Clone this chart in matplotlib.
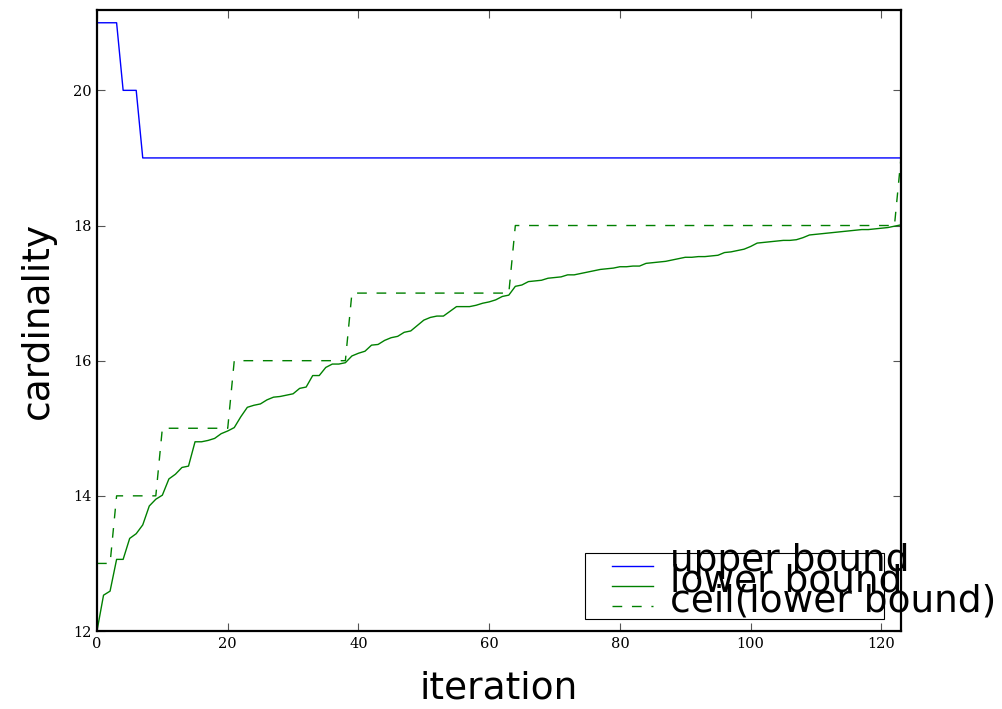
import numpy as np
import matplotlib
matplotlib.use("Agg")
import matplotlib.pyplot as plt
from matplotlib.patches import Rectangle
from matplotlib.lines import Line2D

# ---- data ----
iterations = np.arange(124)

upper_bound = [21, 21, 21, 21, 20, 20, 20] + [19] * 117

lower_bound = [
    12.00, 12.53, 12.59, 13.06, 13.06, 13.37, 13.44, 13.57, 13.85, 13.95,
    14.01, 14.25, 14.32, 14.42, 14.44, 14.80, 14.80, 14.82, 14.85, 14.92,
    14.96, 15.01, 15.17, 15.31, 15.34, 15.36, 15.42, 15.46, 15.47, 15.49,
    15.51, 15.59, 15.61, 15.78, 15.78, 15.90, 15.95, 15.95, 15.97, 16.07,
    16.11, 16.14, 16.23, 16.24, 16.30, 16.34, 16.36, 16.42, 16.44, 16.52,
    16.60, 16.64, 16.66, 16.66, 16.73, 16.80, 16.80, 16.80, 16.82, 16.85,
    16.87, 16.90, 16.95, 16.97, 17.10, 17.12, 17.17, 17.18, 17.19, 17.22,
    17.23, 17.24, 17.27, 17.27, 17.29, 17.31, 17.33, 17.35, 17.36, 17.37,
    17.39, 17.39, 17.40, 17.40, 17.44, 17.45, 17.46, 17.47, 17.49, 17.51,
    17.53, 17.53, 17.54, 17.54, 17.55, 17.56, 17.60, 17.61, 17.63, 17.65,
    17.69, 17.74, 17.75, 17.76, 17.77, 17.78, 17.78, 17.79, 17.82, 17.86,
    17.87, 17.88, 17.89, 17.90, 17.91, 17.92, 17.93, 17.94, 17.94, 17.95,
    17.96, 17.97, 17.99, 18.01,
]

ceil_lower = (
    [13, 13, 13]
    + [14, 14, 14, 14, 14, 14, 14]
    + [15, 15, 15, 15, 15, 15, 15, 15, 15, 15, 15]
    + [16] * 18
    + [17] * 25
    + [18] * 59
    + [19]
)

labels = ["upper bound", "lower bound", "ceil(lower bound)"]
xticks = [0, 20, 40, 60, 80, 100, 120]
yticks = [12, 14, 16, 18, 20]

# ---- figure ----
fig = plt.figure(figsize=(10.03, 7.09), dpi=100)
ax = fig.add_axes([0.0967, 0.110, 0.8016, 0.876])

ax.plot(iterations, upper_bound, color="#0000ff", lw=1.0)
ax.plot(iterations, lower_bound, color="#008000", lw=1.0)
ax.plot(iterations, ceil_lower, color="#008000", lw=1.0, dashes=(7, 7))

ax.set_xlim(0, 123)
ax.set_ylim(12, 21.19)
ax.set_xticks(xticks)
ax.set_yticks(yticks)

for s in ax.spines.values():
    s.set_linewidth(1.6)

ax.tick_params(direction="in", length=6, width=0.8, color="#555555",
               top=True, right=True, pad=4)
for lab in ax.get_xticklabels() + ax.get_yticklabels():
    lab.set_family("DejaVu Serif")
    lab.set_fontsize(10.5)

ax.set_xlabel("iteration", fontsize=27, labelpad=14)
ax.set_ylabel("cardinality", fontsize=27, labelpad=12)

# old-style legend: box sized for small text, labels drawn large
ax.add_patch(Rectangle((0.607, 0.0188), 0.372, 0.1075, transform=ax.transAxes,
                       facecolor="white", edgecolor="black", lw=0.8, zorder=5))
styles = [dict(color="#0000ff"), dict(color="#008000"),
          dict(color="#008000", dashes=(7, 7))]
line_y = [0.1047, 0.0725, 0.0403]
for lab, st, yy in zip(labels, styles, line_y):
    ax.add_line(Line2D([0.641, 0.692], [yy, yy], transform=ax.transAxes,
                       lw=1.0, zorder=6, **st))
    ax.text(0.713, yy - 0.0085, lab, transform=ax.transAxes, fontsize=27,
            va="baseline", ha="left", zorder=7, clip_on=False)

fig.savefig("out.png", dpi=100)
